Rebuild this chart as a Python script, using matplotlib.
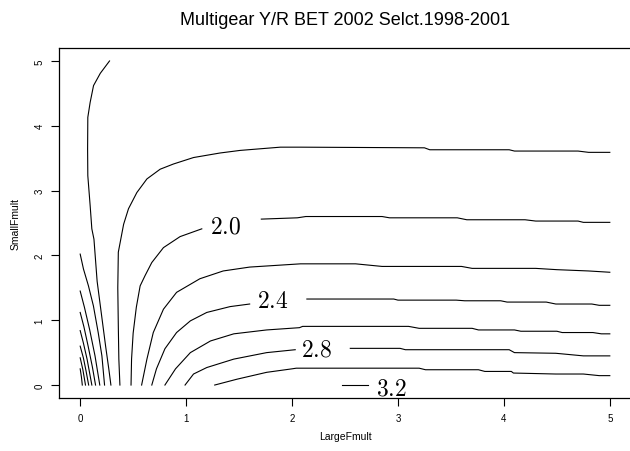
import matplotlib
matplotlib.use('Agg')
import matplotlib.pyplot as plt

plt.rcParams['font.family'] = ['Liberation Sans', 'DejaVu Sans']
plt.rcParams['mathtext.fontset'] = 'cm'

# contour lines of Y/R (LargeFmult, SmallFmult)
# low levels near the origin, 0.2 .. 1.4
c02_x = [0.0, 0.012, 0.02]
c02_y = [0.25, 0.12, 0.0]
c04_x = [0.0, 0.025, 0.05]
c04_y = [0.42, 0.24, 0.0]
c06_x = [0.0, 0.03, 0.055, 0.08]
c06_y = [0.60, 0.42, 0.22, 0.0]
c08_x = [0.0, 0.03, 0.065, 0.11]
c08_y = [0.84, 0.65, 0.40, 0.0]
c10_x = [0.0, 0.035, 0.075, 0.115, 0.145]
c10_y = [1.12, 0.90, 0.60, 0.28, 0.0]
c12_x = [0.0, 0.04, 0.09, 0.14, 0.185]
c12_y = [1.45, 1.20, 0.85, 0.45, 0.0]
c14_x = [0.0, 0.031, 0.078, 0.125, 0.17, 0.205, 0.23]
c14_y = [2.02, 1.79, 1.53, 1.22, 0.81, 0.45, 0.0]

c16_x = [0.277, 0.19, 0.126, 0.094, 0.072, 0.07, 0.072, 0.094, 0.11, 0.13,
         0.16, 0.20, 0.24, 0.27, 0.29]
c16_y = [5.0, 4.81, 4.62, 4.36, 4.13, 3.64, 3.23, 2.77, 2.41, 2.25,
         1.60, 1.10, 0.60, 0.25, 0.0]

c18_x = [5.0, 4.8, 4.7, 4.1, 4.05, 3.3, 3.25, 2.08, 1.89, 1.51, 1.32, 1.07,
         0.88, 0.755, 0.63, 0.535, 0.456, 0.41, 0.36, 0.355, 0.36, 0.365, 0.375]
c18_y = [3.59, 3.59, 3.61, 3.61, 3.63, 3.63, 3.66, 3.67, 3.67, 3.62, 3.58, 3.51,
         3.41, 3.33, 3.18, 2.97, 2.72, 2.48, 2.05, 1.50, 0.90, 0.40, 0.0]

# labelled levels are split in two pieces around the label
c20a_x = [1.148, 0.943, 0.786, 0.676, 0.613, 0.566, 0.53, 0.50, 0.485, 0.48]
c20a_y = [2.41, 2.29, 2.12, 1.89, 1.69, 1.53, 1.20, 0.80, 0.40, 0.0]
c20b_x = [1.71, 2.05, 2.13, 2.85, 2.92, 3.56, 3.65, 4.2, 4.3, 4.7, 4.75, 5.0]
c20b_y = [2.56, 2.58, 2.60, 2.60, 2.58, 2.58, 2.55, 2.55, 2.53, 2.53, 2.51, 2.51]

c22_x = [5.0, 4.8, 4.5, 4.3, 3.7, 3.6, 2.85, 2.6, 2.08, 1.60, 1.35, 1.13,
         0.91, 0.786, 0.69, 0.63, 0.58]
c22_y = [1.74, 1.76, 1.78, 1.80, 1.80, 1.83, 1.83, 1.87, 1.87, 1.82, 1.76, 1.64,
         1.43, 1.17, 0.81, 0.40, 0.0]

c24a_x = [1.60, 1.415, 1.195, 1.04, 0.91, 0.80, 0.72, 0.676]
c24a_y = [1.25, 1.21, 1.12, 0.99, 0.81, 0.56, 0.25, 0.0]
c24b_x = [2.14, 2.96, 3.0, 3.55, 3.63, 3.97, 4.03, 4.4, 4.49, 4.83, 4.9, 5.0]
c24b_y = [1.327, 1.327, 1.31, 1.31, 1.30, 1.30, 1.28, 1.28, 1.25, 1.25, 1.23, 1.23]

c26_x = [5.0, 4.92, 4.84, 4.55, 4.5, 4.16, 4.1, 3.76, 3.7, 3.2, 3.1, 2.1, 2.07,
         1.76, 1.45, 1.23, 1.04, 0.90, 0.80]
c26_y = [0.79, 0.79, 0.81, 0.81, 0.83, 0.83, 0.85, 0.85, 0.875, 0.875, 0.905,
         0.905, 0.885, 0.85, 0.79, 0.68, 0.50, 0.25, 0.0]

c28a_x = [2.03, 1.76, 1.45, 1.195, 1.07, 0.99]
c28a_y = [0.545, 0.50, 0.40, 0.27, 0.17, 0.0]
c28b_x = [2.55, 3.02, 3.07, 4.05, 4.1, 4.49, 4.75, 5.0]
c28b_y = [0.566, 0.566, 0.545, 0.545, 0.50, 0.49, 0.45, 0.45]

c30_x = [5.0, 4.9, 4.75, 4.49, 4.09, 4.07, 3.82, 3.76, 3.26, 3.2, 2.04, 2.0,
         1.76, 1.48, 1.27]
c30_y = [0.145, 0.145, 0.17, 0.17, 0.185, 0.21, 0.21, 0.236, 0.236, 0.26, 0.26,
         0.25, 0.196, 0.09, 0.0]

c32_x = [2.47, 2.72]
c32_y = [0.005, 0.005]

x_ticks = [0, 1, 2, 3, 4, 5]
y_ticks = [0, 1, 2, 3, 4, 5]
label_text = ['2.0', '2.4', '2.8', '3.2']
label_x = [1.37, 1.82, 2.23, 2.94]
label_y = [2.44, 1.30, 0.55, -0.06]

paths = [(c02_x, c02_y), (c04_x, c04_y), (c06_x, c06_y), (c08_x, c08_y),
         (c10_x, c10_y), (c12_x, c12_y), (c14_x, c14_y), (c16_x, c16_y),
         (c18_x, c18_y), (c20a_x, c20a_y), (c20b_x, c20b_y), (c22_x, c22_y),
         (c24a_x, c24a_y), (c24b_x, c24b_y), (c26_x, c26_y),
         (c28a_x, c28a_y), (c28b_x, c28b_y), (c30_x, c30_y), (c32_x, c32_y)]

fig = plt.figure(figsize=(6.3, 4.52), dpi=100)
ax = fig.add_axes([59 / 630, (452 - 399) / 452, (631 - 59) / 630, (399 - 49) / 452])

for px, py in paths:
    ax.plot(px, py, color='black', linewidth=0.8)

for t, lx, ly in zip(label_text, label_x, label_y):
    ax.text(lx, ly, '$' + t + '$', fontsize=17, ha='center', va='center')

ax.set_xlim(-0.2, 5.2)
ax.set_ylim(-0.2, 5.2)
ax.set_xticks(x_ticks)
ax.set_yticks(y_ticks)
ax.set_xticklabels([str(v) for v in x_ticks], fontsize=7)
ax.set_yticklabels([str(v) for v in y_ticks], fontsize=7, rotation=90, va='center')
ax.tick_params(direction='out', length=5.5, width=0.8, pad=5)
for s in ax.spines.values():
    s.set_linewidth(0.9)

ax.set_xlabel('LargeFmult', fontsize=7.5, labelpad=6)
ax.set_ylabel('SmallFmult', fontsize=7.5, labelpad=10)
ax.set_title('Multigear Y/R BET 2002 Selct.1998-2001', fontsize=13, pad=17)

fig.savefig('out.png', dpi=100)
